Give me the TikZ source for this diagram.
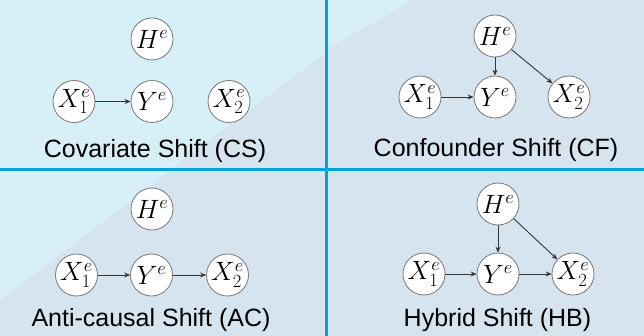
\documentclass[tikz,border=0pt]{standalone}
\usepackage{fix-cm}
\usepackage{fontspec}
\setmainfont{Liberation Sans}
\usetikzlibrary{arrows.meta}
\definecolor{bgcyan}{RGB}{215,239,246}
\definecolor{bggrey}{RGB}{213,228,239}
\definecolor{divblue}{RGB}{0,162,222}
\definecolor{edgec}{RGB}{55,55,55}
\definecolor{ring}{RGB}{120,120,120}
\begin{document}
\begin{tikzpicture}[x=1pt,y=-1pt,
  var/.style={circle, draw=ring, line width=0.8pt, fill=white, minimum size=42pt, inner sep=0pt, font=\fontsize{26.5}{30}\selectfont},
  captext/.style={font=\fontsize{25}{30}\selectfont, anchor=base, inner sep=0pt},
  arr/.style={-{Stealth[length=6pt,width=5pt]}, draw=edgec, line width=0.9pt}]
\useasboundingbox (0,0) rectangle (644,336);
% background
\fill[bggrey] (0,0) rectangle (644,336);
\fill[bgcyan] (0,0) -- (325,0) -- (325,53) -- (171,169) -- (0,169) -- cycle;
\fill[bgcyan] (327,0) -- (413,0) -- (327,49) -- cycle;
\fill[bgcyan] (0,171) -- (170,171) -- (0,300) -- cycle;
% dividers
\draw[divblue, line width=3pt] (326,0) -- (326,336);
\draw[divblue, line width=3pt] (0,170) -- (644,170);
% panel 1: covariate shift
\node[var] (h1) at (152,39) {$H^e$};
\node[var] (xa1) at (74,101.5) {$X_1^e$};
\node[var] (y1) at (152,101.5) {$Y^e$};
\node[var] (xb1) at (229,101.5) {$X_2^e$};
\draw[arr] (xa1) -- (y1);
\node[captext] (t1) at (155,158) {Covariate Shift (CS)};
% panel 2: confounder shift
\node[var] (h2) at (495,36) {$H^e$};
\node[var] (xa2) at (420,97) {$X_1^e$};
\node[var] (y2) at (495,97) {$Y^e$};
\node[var] (xb2) at (569,97) {$X_2^e$};
\draw[arr] (xa2) -- (y2);
\draw[arr] (h2) -- (y2);
\draw[arr] (h2) -- (xb2);
\node[captext] (t2) at (496,157) {Confounder Shift (CF)};
% panel 3: anti-causal shift
\node[var] (h3) at (152,209) {$H^e$};
\node[var] (xa3) at (76.5,275) {$X_1^e$};
\node[var] (y3) at (151.5,275) {$Y^e$};
\node[var] (xb3) at (227.5,275) {$X_2^e$};
\draw[arr] (xa3) -- (y3);
\draw[arr] (y3) -- (xb3);
\node[captext] (t3) at (151,326) {Anti-causal Shift (AC)};
% panel 4: hybrid shift
\node[var] (h4) at (498,204) {$H^e$};
\node[var] (xa4) at (424,274) {$X_1^e$};
\node[var] (y4) at (498,274) {$Y^e$};
\node[var] (xb4) at (573,274) {$X_2^e$};
\draw[arr] (xa4) -- (y4);
\draw[arr] (y4) -- (xb4);
\draw[arr] (h4) -- (y4);
\draw[arr] (h4) -- (xb4);
\node[captext] (t4) at (497.5,326) {Hybrid Shift (HB)};
\end{tikzpicture}
\end{document}
